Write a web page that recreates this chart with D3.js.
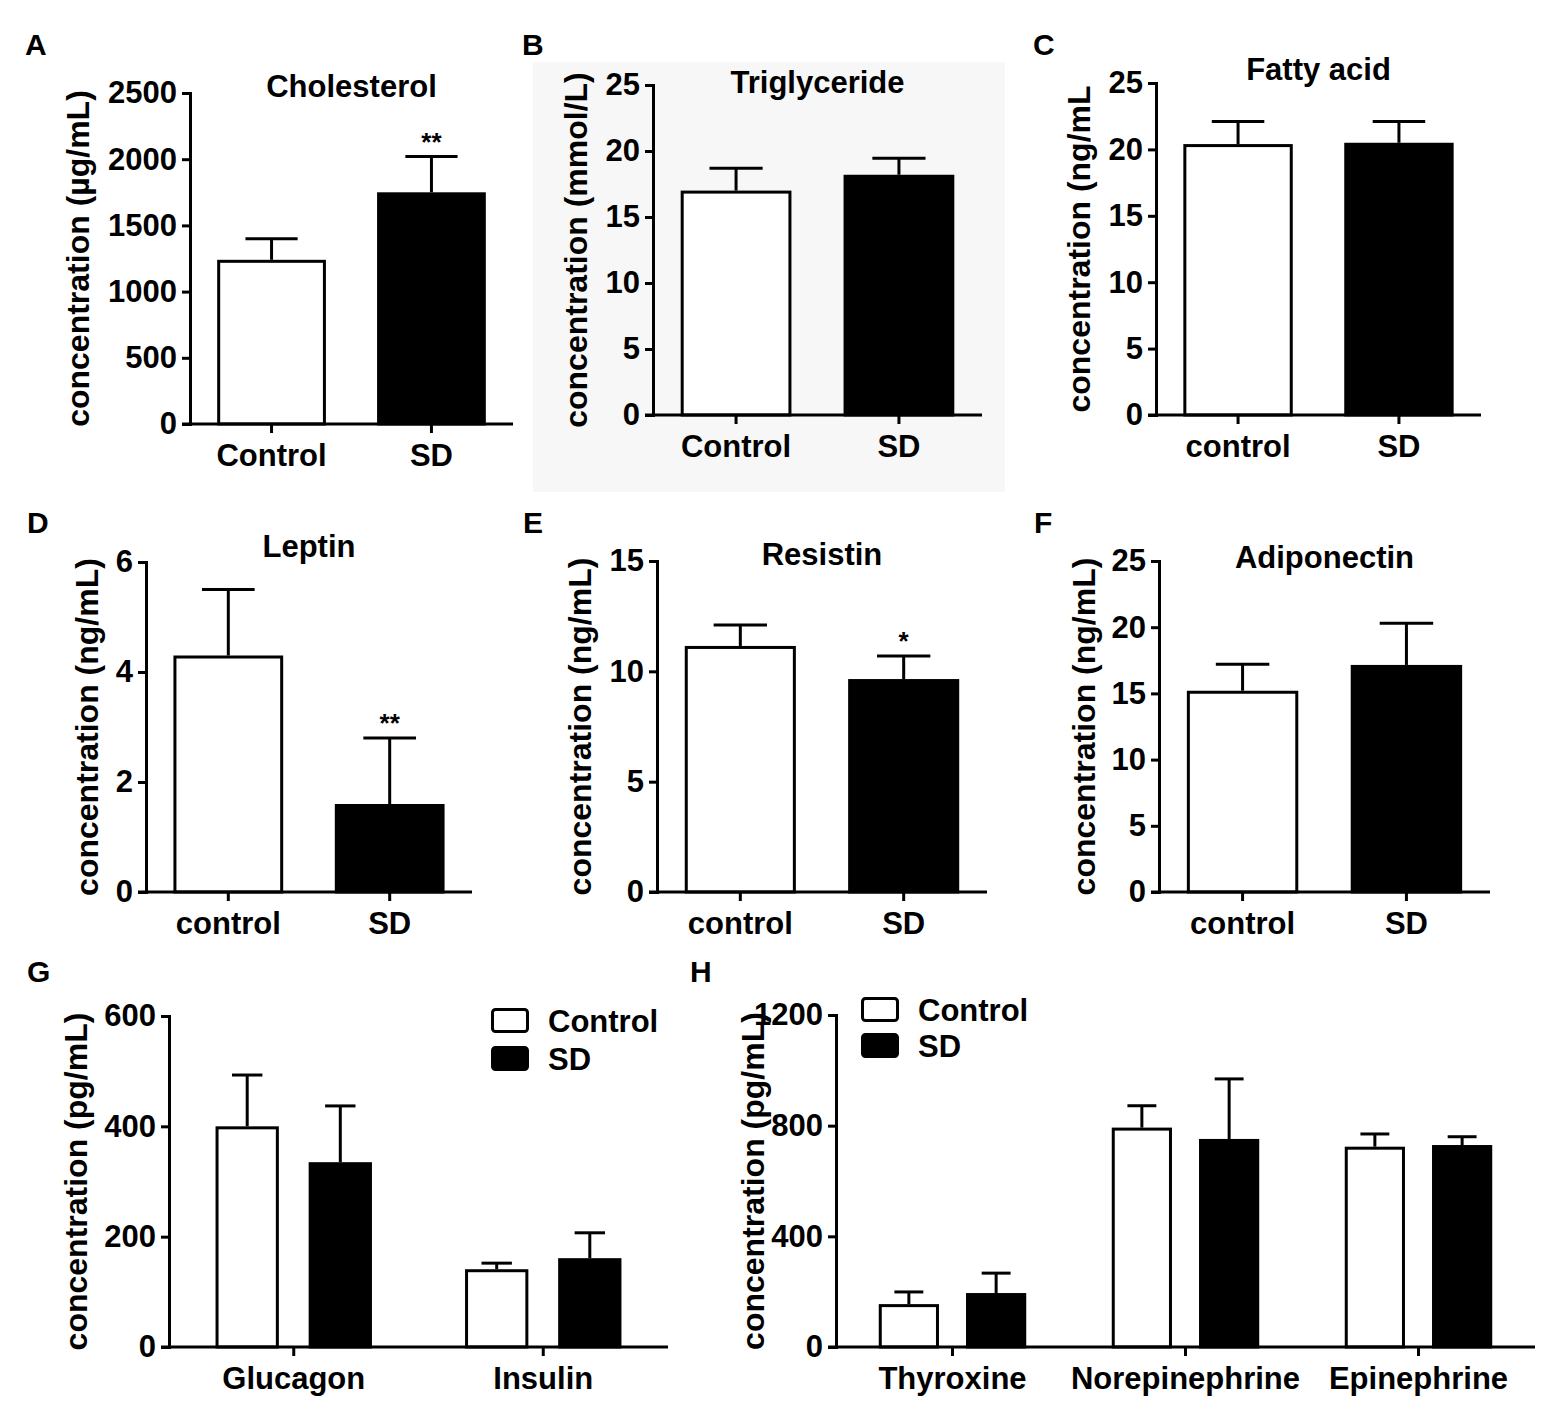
<!DOCTYPE html>
<html>
<head>
<meta charset="utf-8">
<script src="https://cdn.jsdelivr.net/npm/d3@7"></script>
<style>
  html, body { margin: 0; padding: 0; background: #fff; }
  svg text { font-family: "Liberation Sans", Arial, Helvetica, sans-serif; font-weight: bold; fill: #000; }
</style>
</head>
<body>
<svg id="chart" width="1562" height="1421"></svg>
<script>
// ---------------- DATA ----------------
const groupsCap = ["Control", "SD"];
const groupsLow = ["control", "SD"];

const cholesterolMean = [1240, 1750];
const cholesterolSem  = [160, 270];
const cholesterolTicks = [0, 500, 1000, 1500, 2000, 2500];
const cholesterolSig = ["", "**"];

const triglycerideMean = [17.0, 18.2];
const triglycerideSem  = [1.7, 1.25];
const triglycerideTicks = [0, 5, 10, 15, 20, 25];

const fattyAcidMean = [20.4, 20.5];
const fattyAcidSem  = [1.7, 1.6];
const fattyAcidTicks = [0, 5, 10, 15, 20, 25];

const leptinMean = [4.3, 1.6];
const leptinSem  = [1.2, 1.2];
const leptinTicks = [0, 2, 4, 6];
const leptinSig = ["", "**"];

const resistinMean = [11.15, 9.65];
const resistinSem  = [0.95, 1.05];
const resistinTicks = [0, 5, 10, 15];
const resistinSig = ["", "*"];

const adiponectinMean = [15.2, 17.15];
const adiponectinSem  = [2.0, 3.15];
const adiponectinTicks = [0, 5, 10, 15, 20, 25];

const seriesNames = ["Control", "SD"];

const pancreasGroups = ["Glucagon", "Insulin"];
const pancreasControlMean = [400, 141];
const pancreasControlSem  = [93, 11];
const pancreasSDMean = [335, 161];
const pancreasSDSem  = [102, 46];
const pancreasTicks = [0, 200, 400, 600];

const hormoneGroups = ["Thyroxine", "Norepinephrine", "Epinephrine"];
const hormoneControlMean = [155, 793, 724];
const hormoneControlSem  = [44, 79, 46];
const hormoneSDMean = [195, 752, 730];
const hormoneSDSem  = [72, 217, 30];
const hormoneTicks = [0, 400, 800, 1200];

// ---------------- DRAWING ----------------
const svg = d3.select("#chart");
svg.append("rect").attr("x", 0).attr("y", 0).attr("width", 1562).attr("height", 1421).attr("fill", "#fff");
// faint background of panel B
svg.append("rect").attr("x", 533).attr("y", 62).attr("width", 472).attr("height", 430).attr("fill", "#f7f7f7");

const fills = ["#fff", "#000"];
const SW = 3;

function panel(o) {
  const g = svg.append("g");
  const y = d3.scaleLinear().domain([0, o.ticks[o.ticks.length - 1]]).range([o.yBottom, o.yTop]);
  const x = d3.scaleBand().domain(o.groups).range([o.x0, o.x1]).paddingInner(o.pi).paddingOuter(o.po);
  const inner = d3.scaleBand().domain(d3.range(o.nSeries)).range([0, x.bandwidth()])
    .paddingInner(o.ipi).paddingOuter(o.ipo);

  // letter
  g.append("text").attr("x", o.letterX).attr("y", o.letterY).attr("font-size", 30).text(o.letter);
  // title
  if (o.title) {
    g.append("text").attr("x", (o.x0 + o.x1) / 2).attr("y", o.titleY)
      .attr("text-anchor", "middle").attr("font-size", 31).text(o.title);
  }
  // y label
  g.append("text")
    .attr("transform", `translate(${o.labelX},${(o.yTop + o.yBottom) / 2}) rotate(-90)`)
    .attr("text-anchor", "middle").attr("font-size", 32).text(o.yLabel);

  // bars
  const bx = d => x(d.group) + inner(d.series);
  const bw = inner.bandwidth();
  g.selectAll("rect.bar").data(o.bars).join("rect").attr("class", "bar")
    .attr("x", d => bx(d) + SW / 2)
    .attr("y", d => y(d.value) + SW / 2)
    .attr("width", bw - SW)
    .attr("height", d => y(0) - y(d.value) - SW / 2)
    .attr("fill", d => fills[d.fill])
    .attr("stroke", "#000").attr("stroke-width", SW);

  // error bars (upper)
  const capW = bw * 0.48;
  g.selectAll("line.err").data(o.bars).join("line").attr("class", "err")
    .attr("x1", d => bx(d) + bw / 2).attr("x2", d => bx(d) + bw / 2)
    .attr("y1", d => y(d.value)).attr("y2", d => y(d.value + d.sem))
    .attr("stroke", "#000").attr("stroke-width", SW);
  g.selectAll("line.cap").data(o.bars).join("line").attr("class", "cap")
    .attr("x1", d => bx(d) + bw / 2 - capW / 2).attr("x2", d => bx(d) + bw / 2 + capW / 2)
    .attr("y1", d => y(d.value + d.sem)).attr("y2", d => y(d.value + d.sem))
    .attr("stroke", "#000").attr("stroke-width", SW);

  // significance
  g.selectAll("text.sig").data(o.bars.filter(d => d.sig)).join("text").attr("class", "sig")
    .attr("x", d => bx(d) + bw / 2).attr("y", d => y(d.value + d.sem) - 6)
    .attr("text-anchor", "middle").attr("font-size", 26).text(d => d.sig);

  // y axis
  const ya = g.append("g").attr("transform", `translate(${o.x0},0)`)
    .call(d3.axisLeft(y).tickValues(o.ticks).tickFormat(d3.format("d"))
      .tickSize(8).tickPadding(5).tickSizeOuter(0));
  ya.select(".domain").attr("stroke-width", SW).attr("stroke-linecap", "square");
  ya.selectAll(".tick line").attr("stroke-width", SW);
  ya.selectAll(".tick text").attr("font-size", 31).attr("font-family", null).attr("fill", "#000");

  // x axis
  const xa = g.append("g").attr("transform", `translate(0,${o.yBottom})`)
    .call(d3.axisBottom(x).tickSize(9).tickSizeOuter(0));
  xa.select(".domain").remove();
  xa.append("line").attr("x1", o.x0 - 8).attr("x2", o.x1).attr("y1", 0).attr("y2", 0)
    .attr("stroke", "#000").attr("stroke-width", SW);
  xa.selectAll(".tick line").attr("stroke-width", SW);
  xa.selectAll(".tick text").attr("font-size", 31).attr("font-family", null).attr("fill", "#000")
    .attr("y", 42).attr("dy", null);

  // legend
  if (o.legend) {
    seriesNames.forEach((name, i) => {
      const ly = o.legend.y + i * o.legend.gap;
      g.append("rect").attr("x", o.legend.x + SW / 2).attr("y", ly + SW / 2)
        .attr("width", 38 - SW).attr("height", 25 - SW).attr("rx", 3)
        .attr("fill", fills[i]).attr("stroke", "#000").attr("stroke-width", SW);
      g.append("text").attr("x", o.legend.x + 57).attr("y", ly + 24)
        .attr("font-size", 31).text(name);
    });
  }
}

function single(groups, mean, sem, sig) {
  return groups.map((gname, i) => ({ group: gname, series: 0, fill: i, value: mean[i], sem: sem[i], sig: sig ? sig[i] : "" }));
}
function double(groups, cm, cs, sm, ss) {
  const out = [];
  groups.forEach((gname, i) => {
    out.push({ group: gname, series: 0, fill: 0, value: cm[i], sem: cs[i] });
    out.push({ group: gname, series: 1, fill: 1, value: sm[i], sem: ss[i] });
  });
  return out;
}

const top6 = { nSeries: 1, pi: 0.32, po: 0.17, ipi: 0, ipo: 0 };

panel(Object.assign({}, top6, {
  letter: "A", letterX: 25, letterY: 55, title: "Cholesterol", titleY: 97,
  yLabel: "concentration (\u00b5g/mL)", labelX: 89,
  x0: 190, x1: 513, yTop: 93, yBottom: 424, ticks: cholesterolTicks, groups: groupsCap,
  bars: single(groupsCap, cholesterolMean, cholesterolSem, cholesterolSig)
}));
panel(Object.assign({}, top6, {
  letter: "B", letterX: 522, letterY: 55, title: "Triglyceride", titleY: 93,
  yLabel: "concentration (mmol/L)", labelX: 587,
  x0: 653, x1: 982, yTop: 85, yBottom: 415, ticks: triglycerideTicks, groups: groupsCap,
  bars: single(groupsCap, triglycerideMean, triglycerideSem)
}));
panel(Object.assign({}, top6, {
  letter: "C", letterX: 1033, letterY: 55, title: "Fatty acid", titleY: 80,
  yLabel: "concentration (ng/mL", labelX: 1090,
  x0: 1156, x1: 1481, yTop: 83, yBottom: 415, ticks: fattyAcidTicks, groups: groupsLow,
  bars: single(groupsLow, fattyAcidMean, fattyAcidSem)
}));
panel(Object.assign({}, top6, {
  letter: "D", letterX: 27, letterY: 533, title: "Leptin", titleY: 557,
  yLabel: "concentration (ng/mL)", labelX: 98,
  x0: 146, x1: 472, yTop: 562, yBottom: 892, ticks: leptinTicks, groups: groupsLow,
  bars: single(groupsLow, leptinMean, leptinSem, leptinSig)
}));
panel(Object.assign({}, top6, {
  letter: "E", letterX: 523, letterY: 533, title: "Resistin", titleY: 565,
  yLabel: "concentration (ng/mL)", labelX: 591,
  x0: 657, x1: 987, yTop: 561, yBottom: 892, ticks: resistinTicks, groups: groupsLow,
  bars: single(groupsLow, resistinMean, resistinSem, resistinSig)
}));
panel(Object.assign({}, top6, {
  letter: "F", letterX: 1034, letterY: 533, title: "Adiponectin", titleY: 568,
  yLabel: "concentration (ng/mL)", labelX: 1095,
  x0: 1159, x1: 1490, yTop: 561, yBottom: 892, ticks: adiponectinTicks, groups: groupsLow,
  bars: single(groupsLow, adiponectinMean, adiponectinSem)
}));
panel({
  nSeries: 2, pi: 0, po: 0, ipi: 0.32, ipo: 0.5,
  letter: "G", letterX: 27, letterY: 982, title: null,
  yLabel: "concentration (pg/mL)", labelX: 87,
  x0: 169, x1: 668, yTop: 1016, yBottom: 1347, ticks: pancreasTicks, groups: pancreasGroups,
  bars: double(pancreasGroups, pancreasControlMean, pancreasControlSem, pancreasSDMean, pancreasSDSem),
  legend: { x: 491, y: 1008, gap: 38 }
});
panel({
  nSeries: 2, pi: 0, po: 0, ipi: 0.31, ipo: 0.49,
  letter: "H", letterX: 690, letterY: 982, title: null,
  yLabel: "concentration (pg/mL)", labelX: 764,
  x0: 836, x1: 1535, yTop: 1015, yBottom: 1347, ticks: hormoneTicks, groups: hormoneGroups,
  bars: double(hormoneGroups, hormoneControlMean, hormoneControlSem, hormoneSDMean, hormoneSDSem),
  legend: { x: 861, y: 997, gap: 36 }
});
</script>
</body>
</html>
